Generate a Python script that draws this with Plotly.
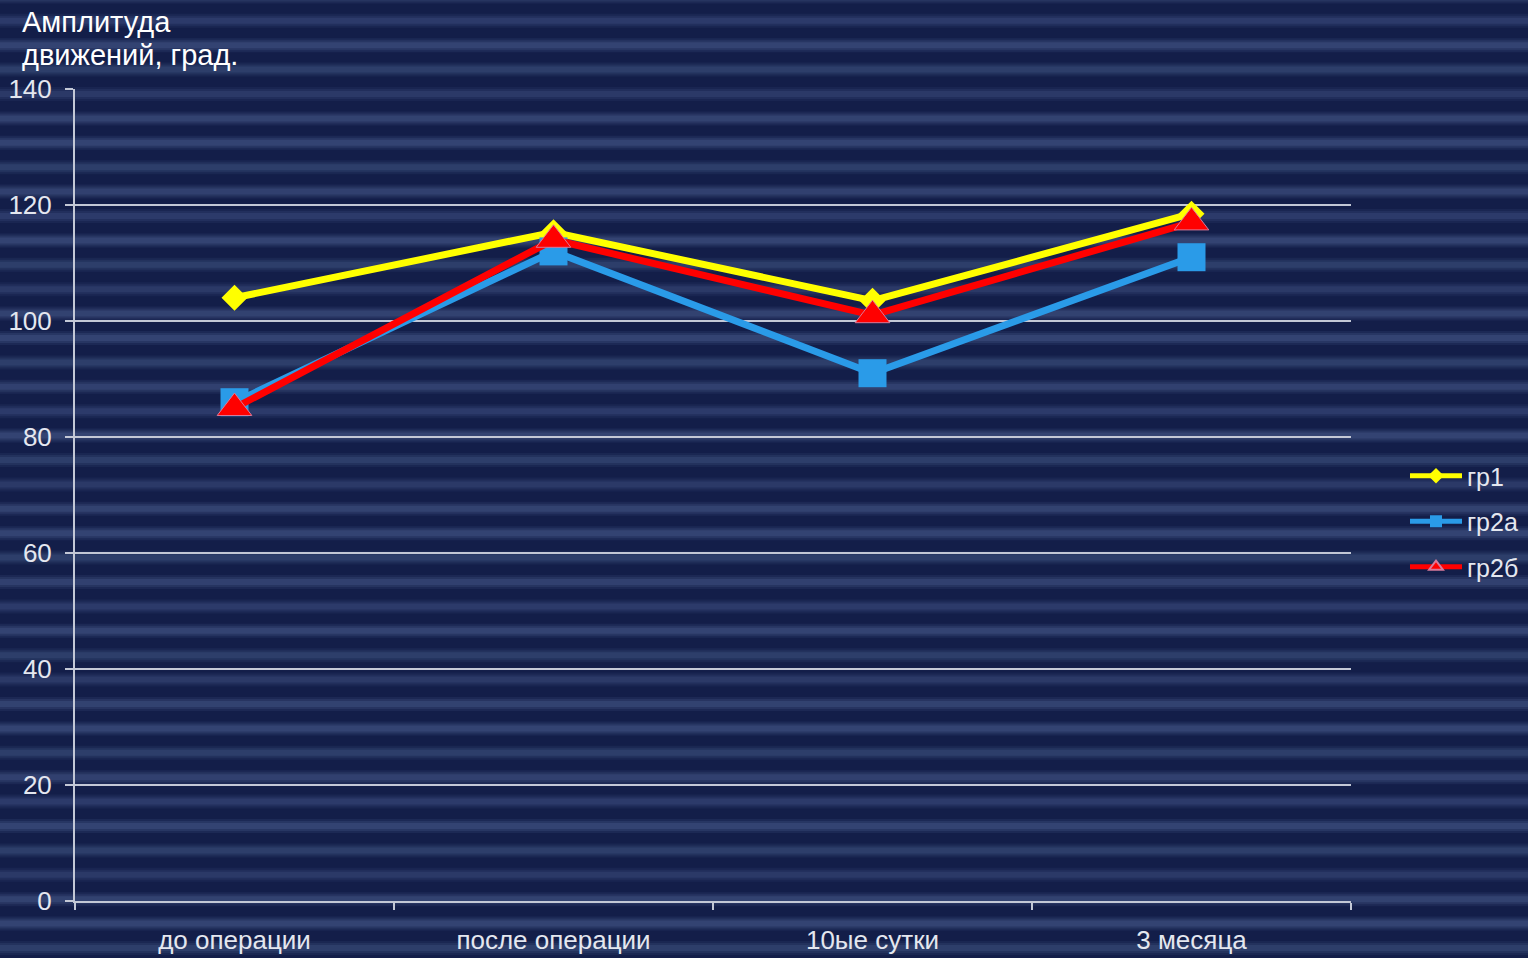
import plotly.graph_objects as go
import numpy as np

# Data
categories = ["до операции", "после операции", "10ые сутки", "3 месяца"]
gr1 = [104, 115.3, 103.5, 118.5]
gr2a = [86, 112, 91, 111]
gr2b = [85, 114, 101, 117]
y_ticks = [0, 20, 40, 60, 80, 100, 120, 140]
title_lines = ["Амплитуда", "движений, град."]

W, H = 1528, 958
L, R, T, B = 75, 177, 89, 57
plot_w = W - L - R
plot_h = H - T - B

BG = "#131e49"
TXT = "#e4e7ef"
GRID = "#c3c8d6"

fig = go.Figure()

fig.add_trace(go.Scatter(
    x=categories, y=gr1, name="гр1", mode="lines+markers",
    line=dict(color="#ffff00", width=7),
    marker=dict(symbol="diamond", size=20, color="#ffff00"),
    legendgroup="a",
))
fig.add_trace(go.Scatter(
    x=categories, y=gr2a, name="гр2а", mode="lines+markers",
    line=dict(color="#2a9be8", width=7),
    marker=dict(symbol="square", size=28, color="#2a9be8"),
    legendgroup="b",
))
fig.add_trace(go.Scatter(
    x=categories, y=gr2b, name="гр2б", mode="lines+markers",
    line=dict(color="#ff0000", width=7),
    marker=dict(symbol="triangle-up", size=30, color="#ff0000",
                line=dict(color="#d87a9a", width=1)),
    legendgroup="c",
))


def py_to_paper(py):
    return (H - B - py) / plot_h


def px_to_paper(px):
    return (px - L) / plot_w


# Soft horizontal stripes of the backdrop
shapes = []
strengths = [0.9, 0.75, 1.0, 0.8, 0.7, 0.95, 1.0, 0.8]
x0p, x1p = px_to_paper(0), px_to_paper(W)
for i, yc in enumerate(np.arange(460 - 24.4 * 19, H + 25, 24.4)):
    s = strengths[i % len(strengths)]
    for half, a in ((7, 0.16), (5, 0.22), (3, 0.3)):
        shapes.append(dict(
            type="rect", xref="paper", yref="paper", layer="below",
            x0=x0p, x1=x1p,
            y0=py_to_paper(yc + half), y1=py_to_paper(yc - half),
            fillcolor=f"rgba(80,100,150,{a * s:.3f})", line=dict(width=0),
        ))

# Axis title as two left-aligned lines above the y axis
annotations = []
for line_text, yc in zip(title_lines, (22, 55)):
    annotations.append(dict(
        text=line_text, xref="paper", yref="paper",
        x=px_to_paper(20), y=py_to_paper(yc), xanchor="left", yanchor="middle",
        align="left", showarrow=False,
        font=dict(size=29, color="#ffffff"),
    ))

fig.update_layout(
    width=W, height=H,
    margin=dict(l=L, r=R, t=T, b=B, autoexpand=False),
    paper_bgcolor=BG,
    plot_bgcolor="rgba(0,0,0,0)",
    font=dict(family="Liberation Sans, Arial, sans-serif", color=TXT),
    shapes=shapes,
    showlegend=True,
    legend=dict(
        x=px_to_paper(1405), y=py_to_paper(453), xanchor="left", yanchor="top",
        bgcolor="rgba(0,0,0,0)", font=dict(size=25, color=TXT),
        itemwidth=52, tracegroupgap=10, traceorder="grouped",
        itemsizing="constant",
    ),
    annotations=annotations,
)

fig.update_xaxes(
    type="category", range=[-0.5, 3.5],
    showline=True, linecolor=GRID, linewidth=2,
    ticks="outside", tickson="boundaries", ticklen=7, tickcolor=GRID, tickwidth=1.5,
    tickfont=dict(size=26, color=TXT), ticklabelstandoff=15,
    showgrid=False, zeroline=False,
)
fig.update_yaxes(
    range=[0, 140], tickvals=y_ticks,
    showline=True, linecolor=GRID, linewidth=2,
    ticks="outside", ticklen=8, tickcolor=GRID, tickwidth=1.5,
    tickfont=dict(size=26, color=TXT), ticklabelstandoff=8,
    showgrid=True, gridcolor=GRID, gridwidth=2,
    zeroline=False,
)

fig.write_html("out.html")
